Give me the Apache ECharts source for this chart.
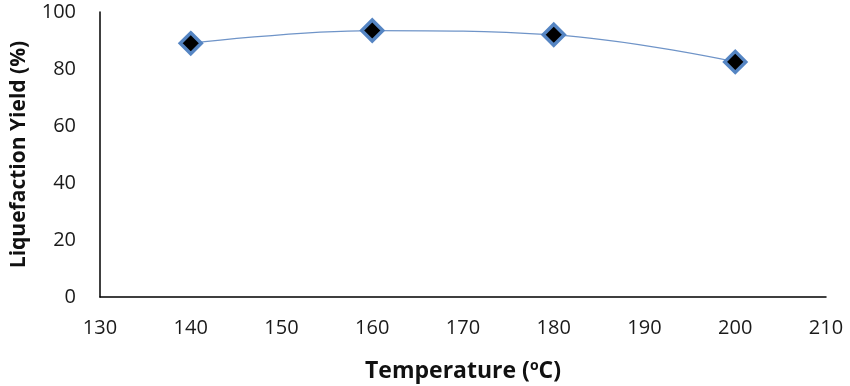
<!DOCTYPE html>
<html><head><meta charset="utf-8">
<script src="https://cdn.jsdelivr.net/npm/echarts@6/dist/echarts.min.js"></script>
<style>html,body{margin:0;padding:0;background:#fff}#c{width:850px;height:386px}</style>
</head><body><div id="c"></div>
<script>
const temperatures = [140, 160, 180, 200];
const yieldValues = [89, 93.5, 92, 82.5];
const xTicks = {min: 130, max: 210, interval: 10};
const yTicks = {min: 0, max: 100, interval: 20};

const chart = echarts.init(document.getElementById('c'));
const font = '"Open Sans", sans-serif';
chart.setOption({
  animation: false,
  grid: {left: 100, right: 24, top: 12, bottom: 89, containLabel: false, outerBoundsMode: 'none'},
  xAxis: {
    type: 'value', min: xTicks.min, max: xTicks.max, interval: xTicks.interval,
    splitLine: {show: false},
    axisTick: {show: false},
    axisLine: {show: true, onZero: false, lineStyle: {color: '#000', width: 1.5}},
    axisLabel: {color: '#1a1a1a', fontSize: 20, fontFamily: font, margin: 21},
    name: '{t|Temperature (}{s|o}{t|C)}',
    nameLocation: 'middle', nameGap: 62,
    nameTextStyle: {
      rich: {
        t: {fontSize: 23, fontWeight: 'bold', fontFamily: font, color: '#111'},
        s: {fontSize: 14, fontWeight: 'bold', fontFamily: font, color: '#111', verticalAlign: 'top', padding: [0,0,10,0]}
      }
    }
  },
  yAxis: {
    type: 'value', min: yTicks.min, max: yTicks.max, interval: yTicks.interval,
    splitLine: {show: false},
    axisTick: {show: false},
    axisLine: {show: true, lineStyle: {color: '#000', width: 1.5}},
    axisLabel: {color: '#1a1a1a', fontSize: 20, fontFamily: font, margin: 24},
    name: 'Liquefaction Yield (%)',
    nameLocation: 'middle', nameGap: 70, nameRotate: 90,
    nameTextStyle: {fontSize: 21, fontWeight: 'bold', fontFamily: font, color: '#111'}
  },
  series: [{
    type: 'line',
    data: temperatures.map((t, i) => [t, yieldValues[i]]),
    smooth: 0.4,
    symbol: 'diamond',
    symbolSize: 21,
    lineStyle: {color: '#6f94c8', width: 1.3},
    itemStyle: {color: '#000', borderColor: '#5585c3', borderWidth: 3.5}
  }]
});
</script></body></html>
